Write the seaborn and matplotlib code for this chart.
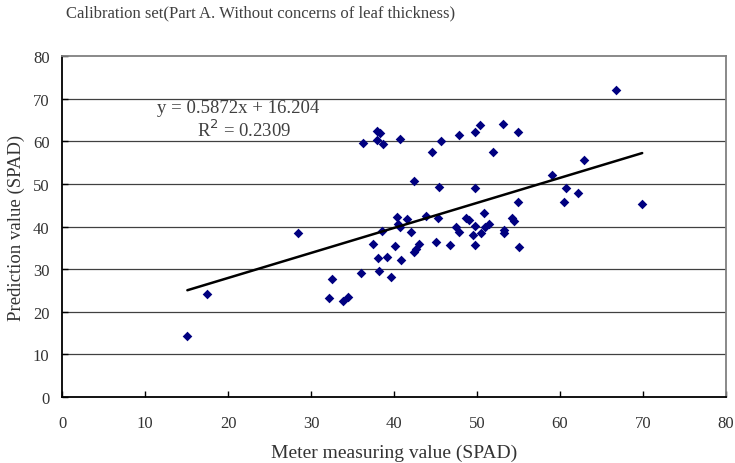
import matplotlib
matplotlib.use("Agg")
import matplotlib.pyplot as plt
import seaborn as sns
import numpy as np
import pandas as pd

# values (SPAD units)
meter_spad = [
    15.1, 17.5, 28.4, 32.2, 32.5, 33.8, 34.5, 36.0, 36.3, 37.5,
    38.0, 38.3, 38.0, 38.1, 38.2, 38.5, 38.7, 39.2, 39.6, 40.1,
    40.3, 40.5, 40.7, 40.7, 40.8, 41.6, 42.0, 42.4, 42.7, 43.0,
    42.4, 43.9, 44.6, 45.0, 45.3, 45.4, 45.7, 46.8, 47.5, 47.8,
    47.8, 48.7, 49.0, 49.5, 49.7, 49.7, 49.7, 49.7, 50.4, 50.5,
    50.8, 51.0, 51.5, 51.9, 53.1, 53.2, 53.3, 54.2, 54.4, 54.9,
    54.9, 55.1, 59.0, 60.5, 60.7, 62.2, 62.9, 66.8, 69.9,
]
predicted_spad = [
    14.4, 24.3, 38.6, 23.3, 27.6, 22.5, 23.6, 29.0, 59.5, 35.9,
    62.5, 62.0, 60.4, 32.6, 29.7, 39.0, 59.3, 32.9, 28.1, 35.4,
    42.2, 40.7, 39.8, 60.5, 32.2, 41.8, 38.8, 34.1, 34.8, 35.8,
    50.7, 42.5, 57.6, 36.4, 42.1, 49.3, 60.0, 35.6, 40.0, 38.8,
    61.5, 42.1, 41.5, 38.0, 40.1, 35.6, 49.0, 62.1, 63.8, 38.6,
    43.1, 40.0, 40.7, 57.5, 64.0, 39.1, 38.6, 42.1, 41.3, 45.7,
    62.1, 35.3, 52.2, 45.8, 49.0, 47.9, 55.7, 72.1, 45.3,
]
slope = 0.5872
intercept = 16.204
r_squared = 0.2309

df = pd.DataFrame({"meter": meter_spad, "pred": predicted_spad})

sns.set_style("white")
plt.rcParams["font.family"] = ["Liberation Serif", "DejaVu Serif"]
text_color = "#333333"

fig = plt.figure(figsize=(7.35, 4.64), dpi=100)
ax = fig.add_axes([0.0844, 0.142, 0.9034, 0.735])

# horizontal gridlines
for yv in range(10, 80, 10):
    ax.axhline(yv, color="#404040", linewidth=0.9, zorder=0)

sns.scatterplot(data=df, x="meter", y="pred", marker="D", color="#000080",
                s=24, linewidth=0, ax=ax, zorder=3)

# trend line over the data range
x_line = np.array([min(meter_spad), max(meter_spad)])
trend = pd.DataFrame({"x": x_line, "y": slope * x_line + intercept})
sns.lineplot(data=trend, x="x", y="y", color="black", linewidth=1.8, ax=ax, zorder=4)

ax.text(11.4, 67.9, f"y = {slope}x + {intercept}", fontsize=13.5,
        color="#404040", va="center", ha="left")
ax.text(16.3, 62.8, f"R$^2$ = {r_squared}", fontsize=13.5,
        color="#404040", va="center", ha="left")

ax.set_xlim(0, 80)
ax.set_ylim(0, 80)
ax.set_xticks(range(0, 81, 10))
ax.set_yticks(range(0, 81, 10))
ax.tick_params(axis="both", direction="in", length=4, width=1, colors="black",
               labelcolor=text_color, labelsize=12)
ax.tick_params(axis="x", bottom=True, pad=13)
ax.tick_params(axis="y", left=True, pad=9)

for side in ["left", "bottom"]:
    ax.spines[side].set_color("black")
    ax.spines[side].set_linewidth(1.3)
for side in ["top", "right"]:
    ax.spines[side].set_color("#808080")
    ax.spines[side].set_linewidth(1.3)

ax.set_xlabel("Meter measuring value (SPAD)", fontsize=14, color=text_color, labelpad=9)
ax.set_ylabel("Prediction value (SPAD)", fontsize=13.5, color=text_color, labelpad=6)

fig.text(0.355, 0.972, "Calibration set(Part A. Without concerns of leaf thickness)",
         fontsize=12, color="#404040", ha="center", va="center")

fig.savefig("out.png", dpi=100)
